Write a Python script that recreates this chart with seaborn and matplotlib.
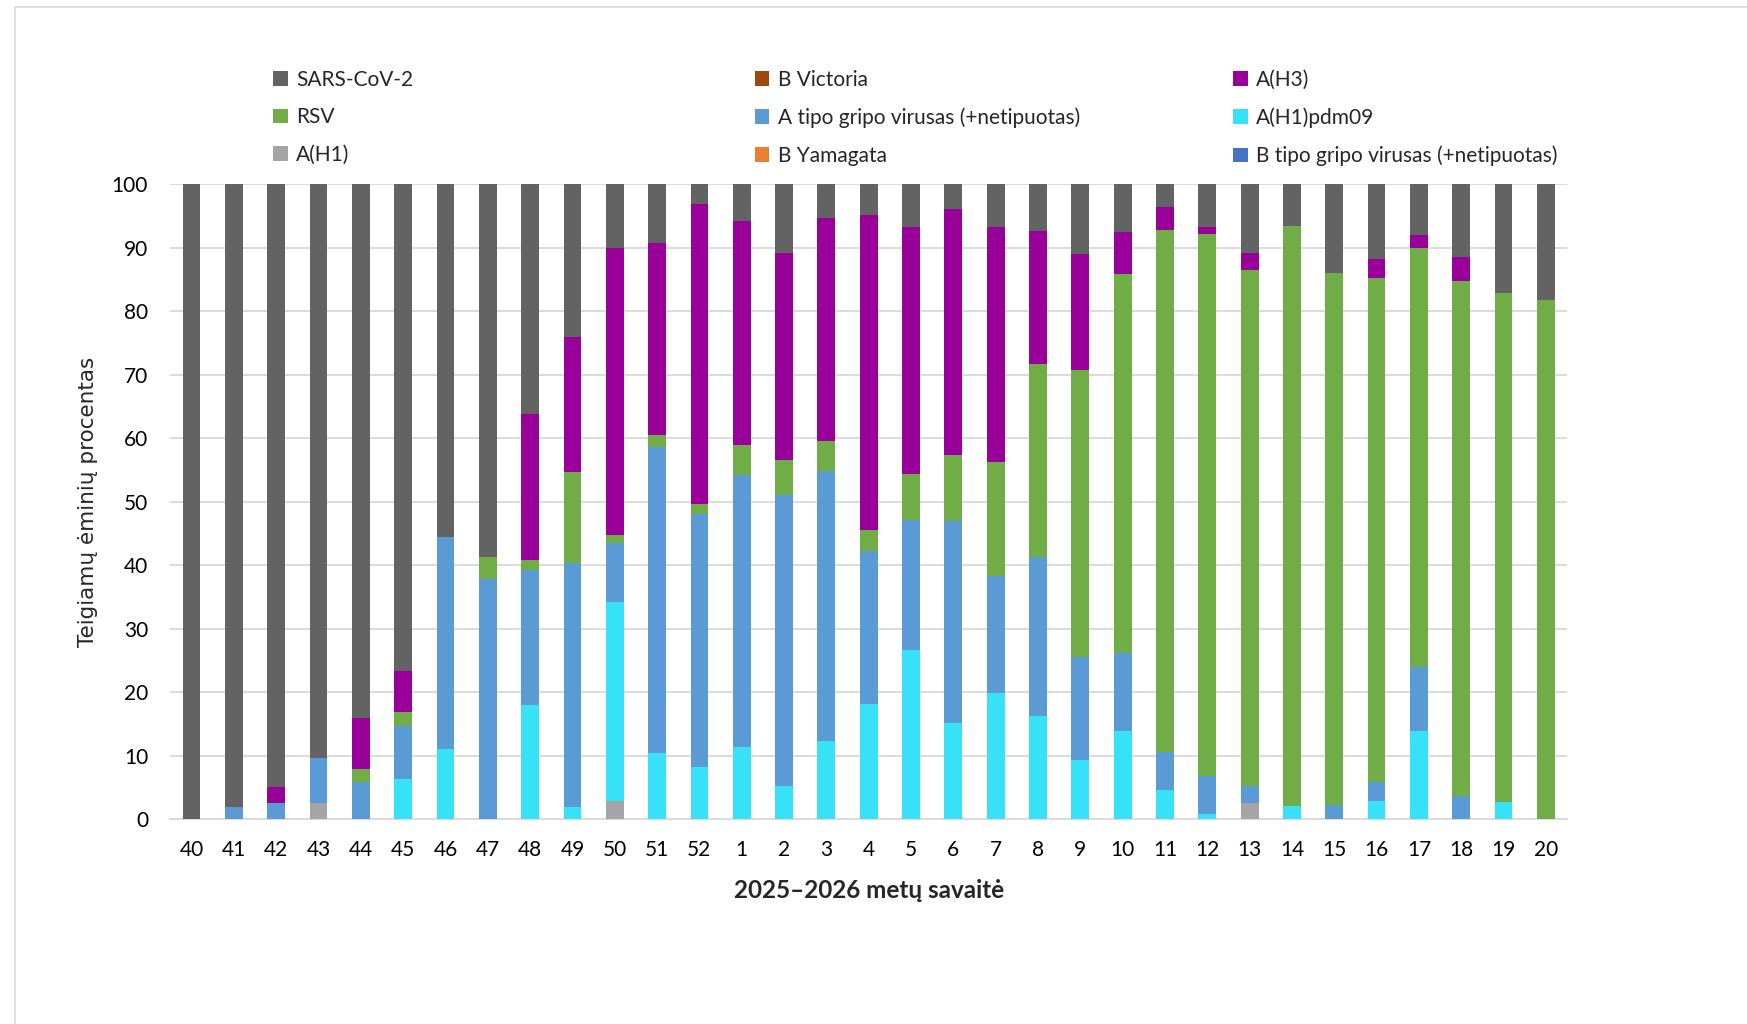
import matplotlib
matplotlib.use("Agg")
import matplotlib.pyplot as plt
from matplotlib.patches import Patch, Rectangle
import numpy as np
import pandas as pd
import seaborn as sns

# ISO weeks of the 2025-2026 season
weeks = ["40", "41", "42", "43", "44", "45", "46", "47", "48", "49", "50", "51", "52",
         "1", "2", "3", "4", "5", "6", "7", "8", "9", "10", "11", "12", "13", "14",
         "15", "16", "17", "18", "19", "20"]

# Share of positive samples (%) by pathogen, per week
a_h1 = [0, 0, 0, 2.5, 0, 0, 0, 0, 0, 0, 2.8, 0, 0,
        0, 0, 0, 0, 0, 0, 0, 0, 0, 0, 0, 0, 2.6, 0, 0, 0, 0, 0, 0, 0]
a_h1pdm09 = [0, 0, 0, 0, 0, 6.3, 11.0, 0, 18.0, 1.9, 31.4, 10.4, 8.2,
             11.4, 5.2, 12.3, 18.2, 26.7, 15.1, 19.8, 16.3, 9.4, 13.9, 4.6, 0.8, 0, 2.1,
             0, 2.9, 13.9, 0, 2.7, 0]
a_untyped = [0, 1.9, 2.5, 7.1, 5.9, 8.4, 33.4, 37.9, 21.3, 38.4, 9.3, 48.2, 39.8,
             42.8, 45.9, 42.6, 24.0, 20.5, 31.9, 18.5, 25.0, 16.1, 12.2, 6.0, 6.0, 2.7, 0,
             2.2, 2.9, 10.0, 3.7, 0, 0]
b_untyped = [0] * 33
b_victoria = [0] * 33
b_yamagata = [0] * 33
rsv = [0, 0, 0, 0, 2.0, 2.2, 0, 3.4, 1.6, 14.4, 1.2, 1.9, 1.6,
       4.8, 5.4, 4.6, 3.4, 7.1, 10.3, 18.0, 30.4, 45.3, 59.8, 82.2, 85.3, 81.2, 91.3,
       83.9, 79.5, 66.1, 81.0, 80.2, 81.8]
a_h3 = [0, 0, 2.5, 0, 8.0, 6.5, 0, 0, 23.0, 21.2, 45.3, 30.3, 47.3,
        35.2, 32.7, 35.2, 49.6, 39.0, 38.8, 37.0, 21.0, 18.2, 6.6, 3.6, 1.1, 2.7, 0,
        0, 3.0, 2.0, 3.8, 0, 0]

# SARS-CoV-2 fills each week up to 100 %
parts = [a_h1, a_h1pdm09, a_untyped, b_untyped, b_victoria, b_yamagata, rsv, a_h3]
sars = list(100 - np.sum(np.array(parts), axis=0))

# Stacking order, bottom to top
layers = [
    ("A(H1)", a_h1, "#A5A5A5"),
    ("A(H1)pdm09", a_h1pdm09, "#37E2F8"),
    ("A tipo gripo virusas (+netipuotas)", a_untyped, "#5B9BD5"),
    ("B tipo gripo virusas (+netipuotas)", b_untyped, "#4472C4"),
    ("B Victoria", b_victoria, "#9E480E"),
    ("B Yamagata", b_yamagata, "#ED7D31"),
    ("RSV", rsv, "#70AD47"),
    ("A(H3)", a_h3, "#990099"),
    ("SARS-CoV-2", sars, "#636363"),
]
colors = {name: c for name, _, c in layers}

df = pd.DataFrame({"week": weeks})
running = np.zeros(len(weeks))
for name, vals, _ in layers:
    running = running + np.array(vals, dtype=float)
    df[name] = running.copy()

sns.set_theme(style="white")
plt.rcParams["font.family"] = ["Lato", "DejaVu Sans"]

fig = plt.figure(figsize=(17.47, 10.24), dpi=100)
ax = fig.add_axes([0.0975, 0.200, 0.7995, 0.620])

# Stacked bars: draw cumulative totals from the top layer down
for name, vals, color in reversed(layers):
    if not np.any(np.array(vals) > 0):
        continue
    sns.barplot(data=df, x="week", y=name, order=weeks, color=color,
                width=0.42, linewidth=0, saturation=1, ax=ax, zorder=3)

ax.set_ylim(0, 100)
ax.set_xlim(-0.5, len(weeks) - 0.5)
ax.set_yticks(np.arange(0, 101, 10))
ax.yaxis.grid(True, color="#D9D9D9", linewidth=1.3, zorder=0)
ax.xaxis.grid(False)
ax.set_axisbelow(True)
for side in ["top", "right", "left"]:
    ax.spines[side].set_visible(False)
ax.spines["bottom"].set_color("#D9D9D9")
ax.spines["bottom"].set_linewidth(1.3)
ax.tick_params(axis="both", length=0, labelsize=15, colors="#000000")
ax.tick_params(axis="x", pad=15)
ax.tick_params(axis="y", pad=16)

ax.set_ylabel("Teigiamų ėminių procentas", fontsize=15.5, family="DejaVu Sans",
              labelpad=10)
ax.set_xlabel("2025–2026 metų savaitė", fontsize=17.5, fontweight="bold",
              labelpad=14)

# Legend laid out in three columns, row by row
legend_cols = [
    ["SARS-CoV-2", "RSV", "A(H1)"],
    ["B Victoria", "A tipo gripo virusas (+netipuotas)", "B Yamagata"],
    ["A(H3)", "A(H1)pdm09", "B tipo gripo virusas (+netipuotas)"],
]
col_x = [0.1565, 0.432, 0.706]
for names, x0 in zip(legend_cols, col_x):
    handles = [Patch(facecolor=colors[n], edgecolor="none", label=n) for n in names]
    fig.legend(handles=handles, loc="upper left", bbox_to_anchor=(x0, 0.932),
               frameon=False, fontsize=15, handlelength=0.7, handleheight=0.7,
               handletextpad=0.4, labelspacing=0.85, borderaxespad=0,
               borderpad=0)

# Light frame around the chart area
fig.patches.append(Rectangle((0.0083, -0.5), 1.5, 1.4932, transform=fig.transFigure,
                             fill=False, edgecolor="#D9D9D9", linewidth=1.2))

fig.savefig("out.png", dpi=100)
